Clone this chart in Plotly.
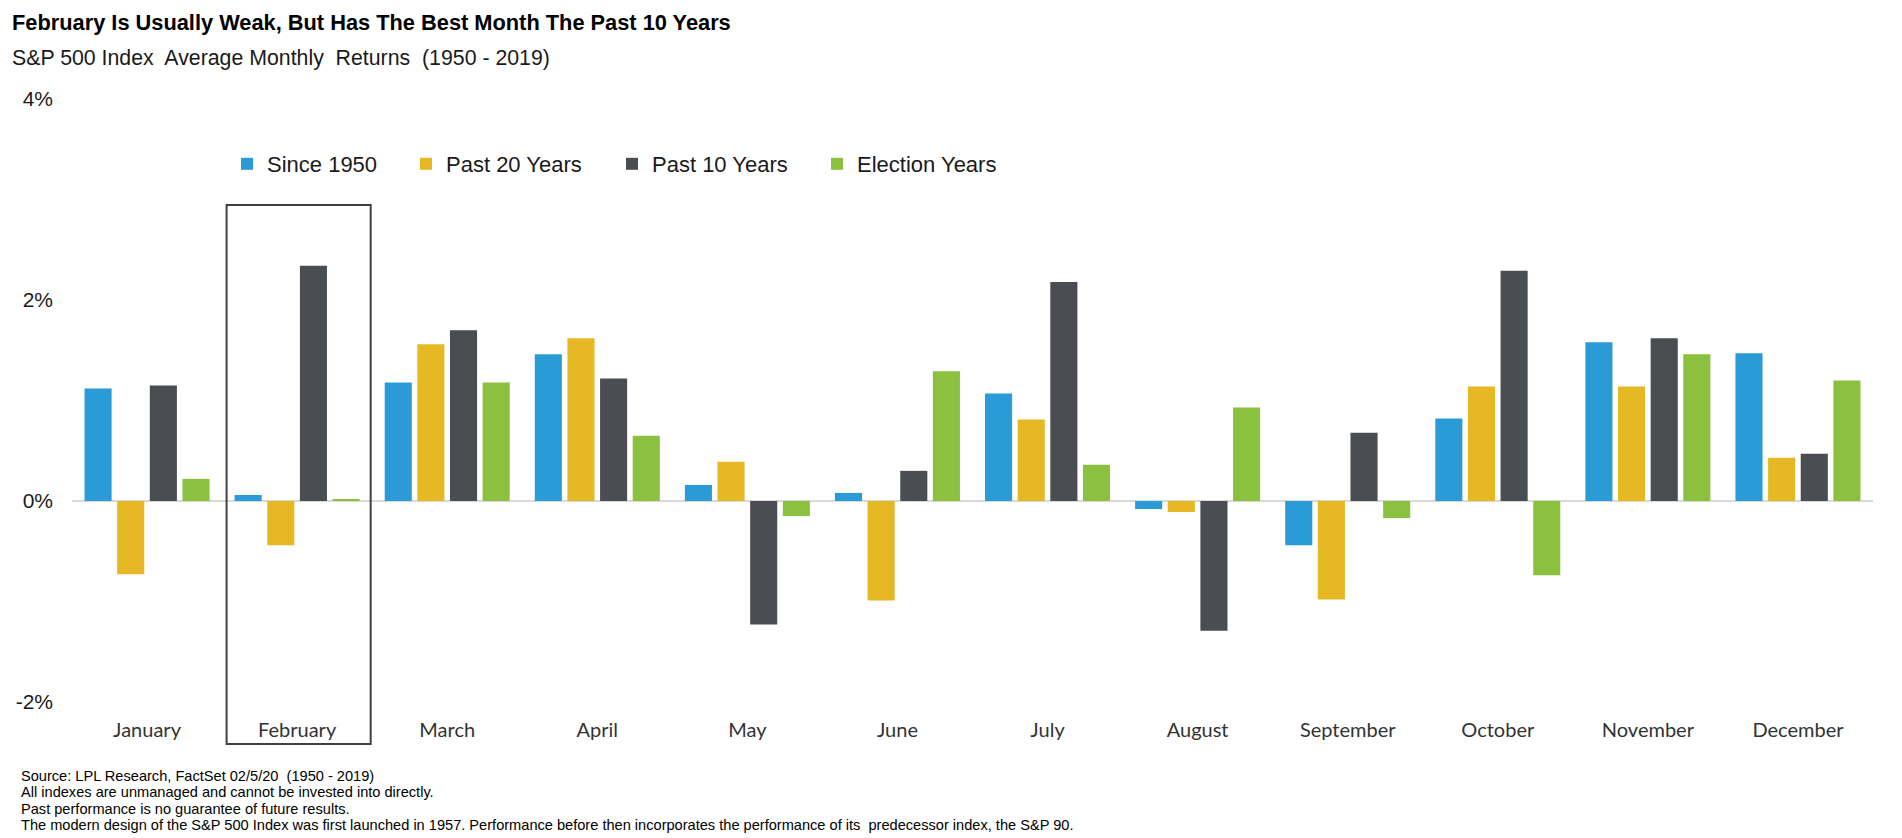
import plotly.graph_objects as go

months = ["January", "February", "March", "April", "May", "June", "July",
          "August", "September", "October", "November", "December"]

since_1950 = [1.12, 0.06, 1.18, 1.46, 0.16, 0.08, 1.07, -0.08, -0.44, 0.82, 1.58, 1.47]
past_20 = [-0.73, -0.44, 1.56, 1.62, 0.39, -0.99, 0.81, -0.11, -0.98, 1.14, 1.14, 0.43]
past_10 = [1.15, 2.34, 1.70, 1.22, -1.23, 0.30, 2.18, -1.29, 0.68, 2.29, 1.62, 0.47]
election = [0.22, 0.02, 1.18, 0.65, -0.15, 1.29, 0.36, 0.93, -0.17, -0.74, 1.46, 1.20]

y_ticks = [-2, 0, 2, 4]
y_tick_labels = ["-2%", "0%", "2%", "4%"]

series = [
    ("Since 1950", since_1950, "#2B9BD8"),
    ("Past 20 Years", past_20, "#E6B824"),
    ("Past 10 Years", past_10, "#4A4D52"),
    ("Election Years", election, "#8CC13F"),
]

footer = [
    "Source: LPL Research, FactSet 02/5/20  (1950 - 2019)",
    "All indexes are unmanaged and cannot be invested into directly.",
    "Past performance is no guarantee of future results.",
    "The modern design of the S&P 500 Index was first launched in 1957. "
    "Performance before then incorporates the performance of its  predecessor index, the S&P 90.",
]

# the page body has an 8px margin, so the figure is a bit smaller than the window
OFF = 8
W, H = 1894, 830
L, R, T, B = 64, 29, 91, 136
PW, PH = W - L - R, H - T - B


def px_x(x):
    # page pixel -> paper coordinate
    return (x - OFF - L) / PW


def px_y(y):
    return (H - B - (y - OFF)) / PH


NARROW = "Liberation Sans Narrow, Arial Narrow, Liberation Sans, Arial"
ARIAL = "Liberation Sans, Arial"

# one small legend per series so the items sit where the original has them
legend_x = [227, 406, 612, 817]
legend_ids = ["legend", "legend2", "legend3", "legend4"]

fig = go.Figure()
for (name, vals, color), lid in zip(series, legend_ids):
    fig.add_trace(go.Bar(x=months, y=vals, name=name, legend=lid,
                         marker=dict(color=color, line=dict(width=0))))

legends = {}
for lid, lx in zip(legend_ids, legend_x):
    legends[lid] = dict(orientation="h", x=px_x(lx), y=px_y(164), xanchor="left",
                        yanchor="middle", itemwidth=30, bgcolor="rgba(0,0,0,0)",
                        font=dict(family=ARIAL, size=22, color="#1a1a1a"))

fig.update_layout(
    width=W, height=H,
    margin=dict(l=L, r=R, t=T, b=B),
    paper_bgcolor="white", plot_bgcolor="white",
    barmode="group", bargap=0.13, bargroupgap=0.17,
    showlegend=True,
    font=dict(family=ARIAL, color="#1a1a1a"),
    **legends,
)

fig.update_yaxes(range=[-2, 4], tickvals=y_ticks, ticktext=y_tick_labels,
                 showgrid=False, zeroline=True, zerolinecolor="#D9D9D9",
                 zerolinewidth=1.5, showline=False, ticklabelstandoff=18,
                 automargin=False,
                 tickfont=dict(family=ARIAL, size=21, color="#1a1a1a"))
fig.update_xaxes(showgrid=False, showline=False, ticks="", ticklabelstandoff=14,
                 automargin=False,
                 tickfont=dict(family="Lato, Open Sans", size=20, color="#333333"))

# box around February
fig.add_shape(type="rect", xref="x", yref="paper", x0=0.53, x1=1.49,
              y0=px_y(744), y1=px_y(205), line=dict(color="#404040", width=2),
              fillcolor="rgba(0,0,0,0)", layer="above")

fig.add_annotation(text="<b>February Is Usually Weak, But Has The Best Month The Past 10 Years</b>",
                   xref="paper", yref="paper", x=px_x(10), y=px_y(8),
                   xanchor="left", yanchor="top", showarrow=False,
                   font=dict(family=NARROW, size=21.8, color="#000000"))
fig.add_annotation(text="S&P 500 Index  Average Monthly  Returns  (1950 - 2019)",
                   xref="paper", yref="paper", x=px_x(10), y=px_y(58),
                   xanchor="left", yanchor="middle", showarrow=False,
                   font=dict(family=NARROW, size=21.3, color="#1a1a1a"))

for i, line in enumerate(footer):
    fig.add_annotation(text=line, xref="paper", yref="paper",
                       x=px_x(19), y=px_y(776 + 16.3 * i),
                       xanchor="left", yanchor="middle", showarrow=False,
                       font=dict(family=NARROW, size=14.6, color="#000000"))

fig.write_html("out.html")
